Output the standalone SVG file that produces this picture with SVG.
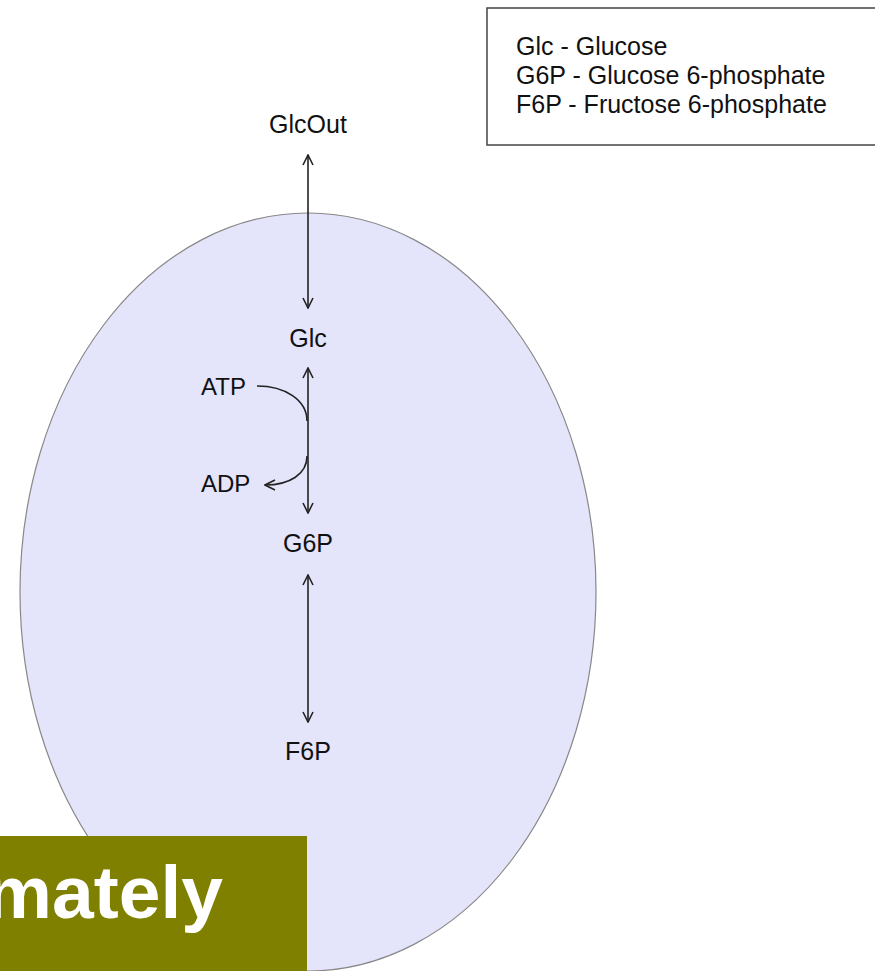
<svg xmlns="http://www.w3.org/2000/svg" width="875" height="971" viewBox="0 0 875 971">
<style>
.lbl{font-family:"Liberation Sans",Arial,sans-serif;font-size:25px;fill:#111}
.c{stroke:#222;stroke-width:1.6;fill:none}
</style>
<defs>
<marker id="ah" viewBox="0 0 12 12" refX="11" refY="6" markerWidth="12" markerHeight="12" markerUnits="userSpaceOnUse" orient="auto-start-reverse">
<path d="M1,1 L11,6 L1,11" fill="none" stroke="#222" stroke-width="1.6"/>
</marker>
</defs>
<rect width="875" height="971" fill="#fff"/>
<g id="cell"><ellipse cx="308" cy="592" rx="288" ry="379" fill="#e4e4fa" stroke="#888" stroke-width="1.2"/></g>
<g id="legend">
<rect x="487" y="8" width="400" height="137" fill="#fff" stroke="#444" stroke-width="1.5"/>
<text class="lbl" x="516" y="55">Glc - Glucose</text>
<text class="lbl" x="516" y="84">G6P - Glucose 6-phosphate</text>
<text class="lbl" x="516" y="113">F6P - Fructose 6-phosphate</text>
</g>
<g id="GlcOut"><text class="lbl" x="308" y="133" text-anchor="middle">GlcOut</text></g>
<g id="Glc"><text class="lbl" x="308" y="347" text-anchor="middle">Glc</text></g>
<g id="G6P"><text class="lbl" x="308" y="552" text-anchor="middle">G6P</text></g>
<g id="F6P"><text class="lbl" x="308" y="760" text-anchor="middle">F6P</text></g>
<g id="ATP"><text class="lbl" x="201" y="395" style="font-size:24px">ATP</text></g>
<g id="ADP"><text class="lbl" x="201" y="492" style="font-size:24px">ADP</text></g>
<g id="connectors">
<line class="c" x1="308" y1="155" x2="308" y2="308" marker-start="url(#ah)" marker-end="url(#ah)"/>
<line class="c" x1="308" y1="368" x2="308" y2="513" marker-start="url(#ah)" marker-end="url(#ah)"/>
<line class="c" x1="308" y1="575" x2="308" y2="722" marker-start="url(#ah)" marker-end="url(#ah)"/>
<path class="c" d="M257,386 C285,386 307,400 307,421"/>
<path class="c" d="M307,456 C307,474 290,485 265,485" marker-end="url(#ah)"/>
</g>
<g id="banner">
<rect x="0" y="836" width="307" height="135" fill="#808000"/>
<text x="223" y="918" text-anchor="end" font-family="Liberation Sans,Arial,sans-serif" font-weight="bold" font-size="75" fill="#fff">mately</text>
</g>
</svg>
